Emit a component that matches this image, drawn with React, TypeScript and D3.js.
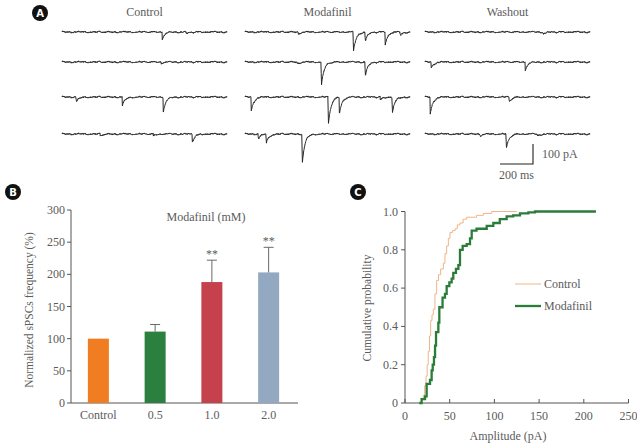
import React from "react";
import * as d3 from "d3";

// ---------- Panel A: example traces (events: [time ms, amplitude pA]) ----------
const traceGroups = ["Control", "Modafinil", "Washout"];
const controlEvents: number[][][] = [
  [[606, 35], [752, 10]],
  [[600, 7]],
  [[85, 25], [364, 45], [612, 75]],
  [[230, 10], [552, 10], [788, 40]],
];
const modafinilEvents: number[][][] = [
  [[321, 10], [655, 100], [727, 45], [848, 60], [939, 15]],
  [[315, 10], [461, 120], [727, 70]],
  [[36, 70], [503, 140], [570, 80], [818, 15], [891, 80]],
  [[79, 25], [127, 45], [345, 150]],
];
const washoutEvents: number[][][] = [
  [[715, 10]],
  [[36, 30], [606, 40]],
  [[30, 85], [509, 25]],
  [[333, 10], [491, 75], [679, 10]],
];
const groupEvents = [controlEvents, modafinilEvents, washoutEvents];
// fixed recording-noise texture (pA)
const noiseA = [0.8, -1.6, 2.1, -0.4, 1.3, -2.4, 0.2, 1.9, -1.1, 0.6, -2.0, 1.5, -0.7, 2.6, -1.4, 0.1, -0.9, 1.7, -2.2, 0.9, 0.3, -1.8, 2.3, -0.2, -1.2, 1.1, -0.5, 2.0, -2.6, 0.7, 1.4, -1.0, 0.4, -1.9, 1.8, -0.3, 0.5];
const noiseB = [0.6, 1.2, 0.9, 0.2, -0.5, -1.1, -1.4, -0.8, -0.1, 0.5, 1.0, 1.3, 0.7, 0.0, -0.6, -1.2, -0.9, -0.3, 0.4, 0.9, 0.3, -0.4, -0.7];
const noiseC = [1.0, 0.4, -0.6, -1.2, -0.3, 0.8, 1.3, 0.2, -0.9, -1.4, -0.2, 0.7, 1.1, -0.5, -1.0];
const scaleBarMs = 200;
const scaleBarPA = 100;

// ---------- Panel B: bar chart ----------
const barCategories = ["Control", "0.5", "1.0", "2.0"];
const barValues = [100, 111, 188, 203];
const barErrors = [0, 11, 34, 39];
const barSig = ["", "", "**", "**"];
const barColors = ["#F07D22", "#2B7F3F", "#C5414C", "#93A9C1"];
const barTicks = [0, 50, 100, 150, 200, 250, 300];

// ---------- Panel C: cumulative probability ----------
const controlCdf: [number, number][] = [
  [16.8, 0], [18.5, 0.02], [20.5, 0.04], [22, 0.09], [23.5, 0.14], [24.8, 0.2], [26, 0.27], [27.4, 0.35],
  [28.7, 0.43], [30.2, 0.46], [31.7, 0.49], [33.5, 0.57], [35.4, 0.64], [37.5, 0.67], [39.9, 0.7], [42.9, 0.73],
  [44.7, 0.78], [46.6, 0.82], [48.5, 0.86], [50.3, 0.89], [53, 0.9], [56, 0.91], [58.5, 0.93], [61.5, 0.94],
  [65, 0.96], [69, 0.97], [80, 0.98], [87.6, 0.99], [97, 1.0], [125, 1.0],
];
const modafinilCdf: [number, number][] = [
  [16, 0], [18.6, 0.02], [22.4, 0.035], [24.2, 0.1], [28, 0.12], [29.8, 0.17], [31, 0.2], [32.4, 0.24],
  [33.6, 0.3], [34.7, 0.37], [37.3, 0.42], [38.4, 0.5], [41, 0.5], [42, 0.55], [44.7, 0.57], [46.6, 0.61],
  [49.6, 0.63], [52.2, 0.65], [54, 0.68], [57, 0.7], [59.7, 0.72], [61.5, 0.8], [64.5, 0.82], [69, 0.83],
  [72.7, 0.86], [74.6, 0.9], [78.3, 0.9], [80, 0.91], [91.4, 0.925], [98.8, 0.94], [106, 0.96], [113.7, 0.975],
  [121, 0.98], [128.6, 0.99], [138, 0.995], [145.4, 1.0], [213.6, 1.0],
];
const cdfXTicks = [0, 50, 100, 150, 200, 250];
const cdfYTicks = [0, 0.2, 0.4, 0.6, 0.8, 1.0];

const FONT = "'Liberation Serif', 'DejaVu Serif', serif";
const TXT = "#5b5b5b";
const AX = "#555";

function Badge({ x, y, label }: { x: number; y: number; label: string }) {
  return (
    <g>
      <circle cx={x} cy={y} r={8} fill="#111" />
      <text x={x} y={y + 4} textAnchor="middle" fill="#fff" fontFamily="'DejaVu Sans', Arial, sans-serif" fontWeight="bold" fontSize={10}>
        {label}
      </text>
    </g>
  );
}

function tracePath(events: number[][], x: d3.ScaleLinear<number, number>, y: d3.ScaleLinear<number, number>) {
  const pts: [number, number][] = [];
  const tau = 16;
  for (let i = 0; i <= 1000; i += 2) {
    const t = i;
    const k = i / 2;
    let v =
      noiseA[k % noiseA.length] * 1.3 +
      noiseB[Math.floor(k / 2) % noiseB.length] * 1.4 +
      noiseC[Math.floor(k / 9) % noiseC.length] * 1.6;
    for (const [t0, a] of events) {
      const dt = t - t0;
      if (dt >= 0) v -= dt < 2 ? (a * dt) / 2 : a * Math.exp(-(dt - 2) / tau);
    }
    pts.push([x(t), y(v)]);
  }
  return d3.line()(pts) || "";
}

export default function App() {
  // Panel A layout
  const groupX0 = [62, 245, 425];
  const traceW = 165;
  const rowBase = [32, 62, 97, 134];
  const pxPerPA = 0.2;

  const groups = traceGroups.map((name, gi) => {
    const x = d3.scaleLinear().domain([0, 1000]).range([groupX0[gi], groupX0[gi] + traceW]);
    const rows = groupEvents[gi].map((ev, ri) => {
      const y = d3.scaleLinear().domain([0, -1]).range([rowBase[ri], rowBase[ri] + pxPerPA]);
      return <path key={ri} d={tracePath(ev, x, y)} fill="none" stroke="#262626" strokeWidth={1} strokeLinejoin="round" />;
    });
    return (
      <g key={name}>
        <text x={groupX0[gi] + traceW / 2} y={16} textAnchor="middle" fontFamily={FONT} fontSize={12} fill={TXT}>
          {name}
        </text>
        {rows}
      </g>
    );
  });

  // scale bar
  const sbX = d3.scaleLinear().domain([0, 1000]).range([0, traceW]);
  const sbRight = 533;
  const sbBottom = 164;
  const sbW = sbX(scaleBarMs);
  const sbH = scaleBarPA * pxPerPA;

  // Panel B
  const bx = d3.scaleBand().domain(barCategories).range([70, 297]).paddingInner(0.63).paddingOuter(0.315);
  const by = d3.scaleLinear().domain([0, 300]).range([403, 210]);
  const bAxisX0 = 71;
  const bAxisX1 = 298;

  // Panel C
  const cx = d3.scaleLinear().domain([0, 250]).range([405, 628.5]);
  const cy = d3.scaleLinear().domain([0, 1]).range([403, 211.5]);
  const stepLine = d3
    .line<[number, number]>()
    .x((d) => cx(d[0]))
    .y((d) => cy(d[1]))
    .curve(d3.curveStepAfter);

  return (
    <svg width={637} height={444} style={{ display: "block", position: "absolute", left: 0, top: 0, background: "#fff" }}>
      <rect width={637} height={444} fill="#fff" />
      {/* Panel A */}
      <Badge x={40} y={13} label="A" />
      {groups}
      <path d={`M${sbRight - sbW},${sbBottom}H${sbRight}V${sbBottom - sbH}`} fill="none" stroke="#222" strokeWidth={1.1} />
      <text x={sbRight + 9} y={sbBottom - sbH / 2 + 4} fontFamily={FONT} fontSize={12} fill={TXT}>
        {scaleBarPA} pA
      </text>
      <text x={sbRight - sbW / 2} y={sbBottom + 15} textAnchor="middle" fontFamily={FONT} fontSize={12} fill={TXT}>
        {scaleBarMs} ms
      </text>

      {/* Panel B */}
      <Badge x={13} y={192} label="B" />
      <line x1={bAxisX0} x2={bAxisX0} y1={by(300)} y2={by(0)} stroke={AX} strokeWidth={1} />
      <line x1={bAxisX0} x2={bAxisX1} y1={by(0)} y2={by(0)} stroke={AX} strokeWidth={1} />
      {barTicks.map((t) => (
        <g key={t}>
          <line x1={bAxisX0 - 4} x2={bAxisX0} y1={by(t)} y2={by(t)} stroke={AX} />
          <text x={bAxisX0 - 6} y={by(t) + 4} textAnchor="end" fontFamily={FONT} fontSize={12} fill={TXT}>
            {t}
          </text>
        </g>
      ))}
      {barCategories.map((c, i) => {
        const x0 = bx(c)!;
        const w = bx.bandwidth();
        const xm = x0 + w / 2;
        const top = by(barValues[i] + barErrors[i]);
        return (
          <g key={c}>
            <rect x={x0} y={by(barValues[i])} width={w} height={by(0) - by(barValues[i])} fill={barColors[i]} />
            {barErrors[i] > 0 && (
              <g stroke="#6a6a6a" strokeWidth={1}>
                <line x1={xm} x2={xm} y1={by(barValues[i])} y2={top} />
                <line x1={xm - 5} x2={xm + 5} y1={top} y2={top} />
              </g>
            )}
            {barSig[i] && (
              <text x={xm} y={top - 2} textAnchor="middle" fontFamily={FONT} fontSize={12} fill={TXT}>
                {barSig[i]}
              </text>
            )}
            <text x={xm} y={by(0) + 16} textAnchor="middle" fontFamily={FONT} fontSize={12} fill={TXT}>
              {c}
            </text>
          </g>
        );
      })}
      <text x={206} y={221} textAnchor="middle" fontFamily={FONT} fontSize={12} fill={TXT}>
        Modafinil (mM)
      </text>
      <text transform="translate(33,310) rotate(-90)" textAnchor="middle" fontFamily={FONT} fontSize={11.5} fill={TXT}>
        Normalized sPSCs frequency (%)
      </text>

      {/* Panel C */}
      <Badge x={358} y={192} label="C" />
      <line x1={cx(0)} x2={cx(0)} y1={cy(1)} y2={cy(0)} stroke={AX} />
      <line x1={cx(0)} x2={cx(250)} y1={cy(0)} y2={cy(0)} stroke={AX} />
      {cdfYTicks.map((t) => (
        <g key={t}>
          <line x1={cx(0) - 4} x2={cx(0)} y1={cy(t)} y2={cy(t)} stroke={AX} />
          <text x={cx(0) - 7} y={cy(t) + 4} textAnchor="end" fontFamily={FONT} fontSize={12} fill={TXT}>
            {t === 0 ? "0" : t.toFixed(1)}
          </text>
        </g>
      ))}
      {cdfXTicks.map((t) => (
        <g key={t}>
          <line x1={cx(t)} x2={cx(t)} y1={cy(0)} y2={cy(0) - 4} stroke={AX} />
          <text x={cx(t)} y={cy(0) + 17} textAnchor="middle" fontFamily={FONT} fontSize={12} fill={TXT}>
            {t}
          </text>
        </g>
      ))}
      <path d={stepLine(controlCdf) || ""} fill="none" stroke="#EDB58A" strokeWidth={1} />
      <path d={stepLine(modafinilCdf) || ""} fill="none" stroke="#2A7C38" strokeWidth={2.3} />
      <line x1={515} x2={541} y1={284} y2={284} stroke="#EDB58A" strokeWidth={1} />
      <text x={544} y={288} fontFamily={FONT} fontSize={12} fill={TXT}>Control</text>
      <line x1={515} x2={541} y1={306} y2={306} stroke="#2A7C38" strokeWidth={2.3} />
      <text x={544} y={310} fontFamily={FONT} fontSize={12} fill={TXT}>Modafinil</text>
      <text x={508} y={440} textAnchor="middle" fontFamily={FONT} fontSize={12} fill={TXT}>
        Amplitude (pA)
      </text>
      <text transform="translate(371,308) rotate(-90)" textAnchor="middle" fontFamily={FONT} fontSize={11.5} fill={TXT}>
        Cumulative probability
      </text>
    </svg>
  );
}
